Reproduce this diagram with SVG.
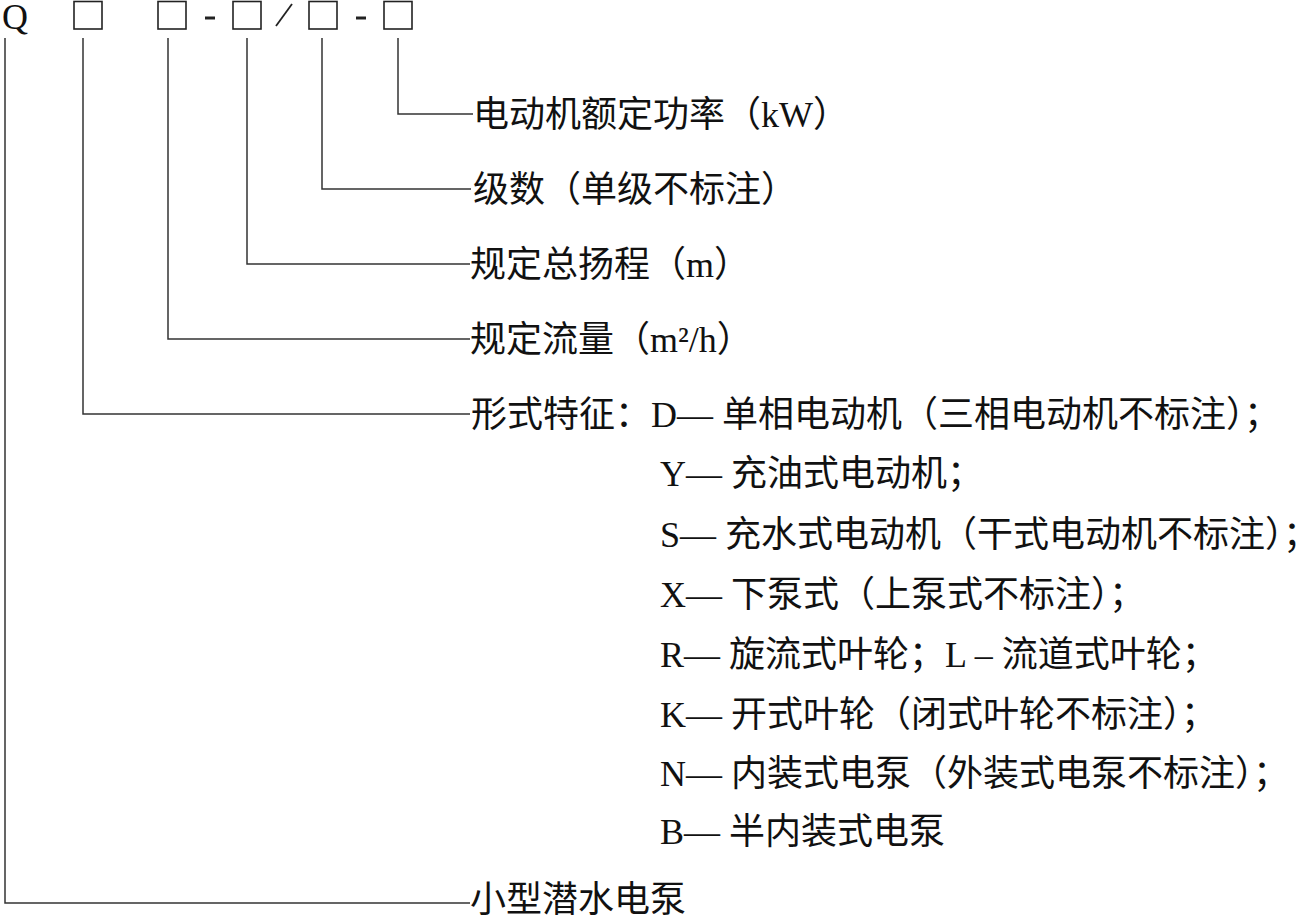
<svg xmlns="http://www.w3.org/2000/svg" width="1309" height="920" viewBox="0 0 1309 920">
<style>
  .t { font-family: "Liberation Serif", "Noto Sans CJK SC", serif; font-size: 36px; fill: #111; }
  .box { fill: none; stroke: #222; stroke-width: 1.6; }
  .ln { fill: none; stroke: #333; stroke-width: 1.5; }
</style>
<rect width="1309" height="920" fill="#fff"/>
<g id="code">
  <text class="t" x="2" y="29" style="font-size:36px">Q</text>
  <rect class="box" x="74" y="1.5" width="28" height="27.5"/>
  <rect class="box" x="158" y="1.5" width="28" height="27.5"/>
  <line x1="205" y1="18" x2="215" y2="18" stroke="#222" stroke-width="3"/>
  <rect class="box" x="233" y="1.5" width="28" height="27.5"/>
  <line x1="276" y1="26" x2="292" y2="4" stroke="#222" stroke-width="1.8"/>
  <rect class="box" x="309" y="1.5" width="28" height="27.5"/>
  <line x1="356" y1="18" x2="366" y2="18" stroke="#222" stroke-width="3"/>
  <rect class="box" x="384" y="1.5" width="28" height="27.5"/>
</g>
<g id="connectors">
  <polyline class="ln" points="398,38 398,114 473,114"/>
  <polyline class="ln" points="322,38 322,189 471,189"/>
  <polyline class="ln" points="247,38 247,264 470,264"/>
  <polyline class="ln" points="168,38 168,339 470,339"/>
  <polyline class="ln" points="83,38 83,414 470,414"/>
  <polyline class="ln" points="5,38 5,903 470,903"/>
</g>
<g id="power"><text class="t" x="473" y="127">电动机额定功率（kW）</text></g>
<g id="stages"><text class="t" x="473" y="202">级数（单级不标注）</text></g>
<g id="head"><text class="t" x="470" y="277">规定总扬程（m）</text></g>
<g id="flow"><text class="t" x="470" y="352">规定流量（m²/h）</text></g>
<g id="form">
  <text class="t" x="471" y="427">形式特征：D— 单相电动机（三相电动机不标注）；</text>
  <text class="t" x="660" y="486">Y— 充油式电动机；</text>
  <text class="t" x="660" y="547">S— 充水式电动机（干式电动机不标注）；</text>
  <text class="t" x="660" y="607">X— 下泵式（上泵式不标注）；</text>
  <text class="t" x="660" y="667">R— 旋流式叶轮；L – 流道式叶轮；</text>
  <text class="t" x="660" y="727">K— 开式叶轮（闭式叶轮不标注）；</text>
  <text class="t" x="660" y="786">N— 内装式电泵（外装式电泵不标注）；</text>
  <text class="t" x="660" y="844">B— 半内装式电泵</text>
</g>
<g id="type"><text class="t" x="470" y="912">小型潜水电泵</text></g>
</svg>
